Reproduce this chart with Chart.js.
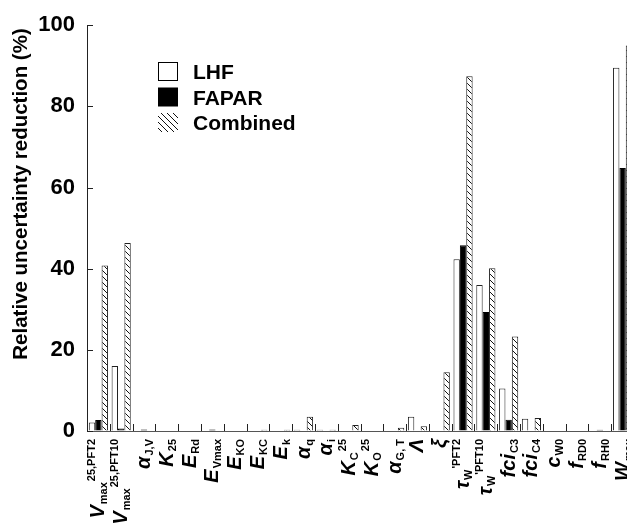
<!DOCTYPE html>
<html>
<head>
<meta charset="utf-8">
<script src="https://cdn.jsdelivr.net/npm/chart.js@4"></script>
<style>
  html, body { margin: 0; padding: 0; background: #fff; overflow: hidden; }
  #wrap { width: 627px; height: 523px; overflow: hidden; }
</style>
</head>
<body>
<div id="wrap"><canvas id="uncChart" width="636" height="523"></canvas></div>
<script>
// ─── data ───
const categories = ['Vmax25,PFT2', 'Vmax25,PFT10', 'αJ,V', 'K25', 'ERd', 'EVmax', 'EKO', 'EKC', 'Ek',
  'αq', 'αi', 'KC25', 'KO25', 'αG,T', 'Λ', 'ξ', "τW'PFT2", "τW'PFT10", 'fciC3', 'fciC4',
  'cW0', 'fRD0', 'fRH0', 'Wmax'];
const labelMain = ['V', 'V', 'α', 'K', 'E', 'E', 'E', 'E', 'E',
  'α', 'α', 'K', 'K', 'α', 'Λ', 'ξ', 'τ', 'τ', 'fci', 'fci',
  'c', 'f', 'f', 'W'];
const labelSub = ['max', 'max', 'J,V', '25', 'Rd', 'Vmax', 'KO', 'KC', 'k',
  'q', 'i', 'C', 'O', 'G, T', '', '', 'W', 'W', 'C3', 'C4',
  'W0', 'RD0', 'RH0', 'max'];
const labelSup = ['25,PFT2', '25,PFT10', '', '', '', '', '', '', '',
  '', '', '25', '25', '', '', '', "'PFT2", "'PFT10", '', '',
  '', '', '', ''];

const lhf      = [2.1, 16.0, 0, 0, 0, 0, 0, 0, 0, 0.3, 0.3, 0, 0, 0, 3.5, 0, 42.3, 36.0, 10.5, 3.0, 0, 0, 0, 89.5];
const fapar    = [2.7, 0.6, 0.4, 0, 0, 0.4, 0, 0, 0, 0, 0, 0, 0, 0, 0, 0, 45.8, 29.3, 2.8, 0, 0, 0, 0.3, 64.8];
const combined = [40.8, 46.3, 0, 0, 0, 0, 0, 0.3, 0.3, 3.5, 0.3, 1.5, 0, 0.8, 1.2, 14.5, 87.4, 40.1, 23.3, 3.2, 0, 0, 0, 95.0];
const yTicks = [0, 20, 40, 60, 80, 100];

const legendLabels = ['LHF', 'FAPAR', 'Combined'];
const FONT = '"Liberation Sans", Arial, sans-serif';

// ─── hatch pattern ───
function makeHatch() {
    const c = document.createElement('canvas');
    c.width = 6; c.height = 6;
    const g = c.getContext('2d');
    g.fillStyle = '#fff';
    g.fillRect(0, 0, 6, 6);
    g.strokeStyle = '#111';
    g.lineWidth = 1;
    g.beginPath();
    g.moveTo(-1, -1); g.lineTo(7, 7);
    g.moveTo(-1, 5); g.lineTo(1, 7);
    g.moveTo(5, -1); g.lineTo(7, 1);
    g.stroke();
    return g.createPattern(c, 'repeat');
}
const hatch = makeHatch();

// ─── custom drawing: inner ticks, rotated math labels, title, legend ───
const decorPlugin = {
    id: 'decor',
    afterDraw(chart) {
        const ctx = chart.ctx;
        const xs = chart.scales.x, ys = chart.scales.y;
        const area = chart.chartArea;
        const step = xs.getPixelForValue(1) - xs.getPixelForValue(0);
        ctx.save();

        // inner ticks on x axis at category boundaries
        ctx.strokeStyle = '#555';
        ctx.lineWidth = 1;
        ctx.beginPath();
        for (let i = 1; i < categories.length; i++) {
            const x = Math.round(xs.getPixelForValue(i) - step / 2) + 0.5;
            ctx.moveTo(x, area.bottom);
            ctx.lineTo(x, area.bottom - 7);
        }
        // inner ticks on y axis
        ctx.strokeStyle = '#222';
        yTicks.forEach(v => {
            const y = Math.round(ys.getPixelForValue(v)) + 0.5;
            ctx.moveTo(area.left, y);
            ctx.lineTo(area.left + 6, y);
        });
        ctx.stroke();

        // rotated category labels with sub/superscripts
        ctx.fillStyle = '#000';
        ctx.textBaseline = 'alphabetic';
        ctx.textAlign = 'left';
        const mainFont = `italic bold 20px ${FONT}`;
        const smallFont = `bold 11px ${FONT}`;
        categories.forEach((_, i) => {
            const cx = xs.getPixelForValue(i);
            ctx.font = mainFont;
            const wm = ctx.measureText(labelMain[i]).width;
            ctx.font = smallFont;
            const wsub = labelSub[i] ? ctx.measureText(labelSub[i]).width + 1 : 0;
            const wsup = labelSup[i] ? ctx.measureText(labelSup[i]).width + 1 : 0;
            const total = wm + wsub + wsup;
            ctx.save();
            ctx.translate(cx, area.bottom + 8);
            ctx.rotate(-Math.PI / 2);
            let pos = -total;
            ctx.font = mainFont;
            ctx.fillText(labelMain[i], pos, 6);
            pos += wm;
            ctx.font = smallFont;
            if (labelSub[i]) { ctx.fillText(labelSub[i], pos + 1, 9); pos += wsub; }
            if (labelSup[i]) { ctx.fillText(labelSup[i], pos + 1, -3); }
            ctx.restore();
        });

        // y axis title
        ctx.save();
        ctx.translate(21, 194);
        ctx.rotate(-Math.PI / 2);
        ctx.textAlign = 'center';
        ctx.textBaseline = 'middle';
        ctx.font = `bold 20.5px ${FONT}`;
        ctx.fillText('Relative uncertainty reduction (%)', 0, 0);
        ctx.restore();

        // legend
        const fills = ['#fff', '#000', hatch];
        ctx.font = `bold 21px ${FONT}`;
        ctx.textBaseline = 'alphabetic';
        legendLabels.forEach((lab, k) => {
            const y = 62 + k * 25.5;
            ctx.fillStyle = fills[k];
            ctx.fillRect(158, y, 20, 19);
            if (k === 0) {
                ctx.strokeStyle = '#000';
                ctx.strokeRect(158.5, y + 0.5, 19, 18);
            }
            ctx.fillStyle = '#000';
            ctx.fillText(lab, 193, y + 17);
        });
        ctx.restore();
    }
};

// ─── Chart.js ───
const ctx = document.getElementById('uncChart').getContext('2d');
new Chart(ctx, {
    type: 'bar',
    data: {
        labels: categories,
        datasets: [
            { label: 'LHF', data: lhf, backgroundColor: '#fff', borderColor: '#222', borderWidth: 1 },
            { label: 'FAPAR', data: fapar, backgroundColor: '#000', borderColor: '#000', borderWidth: 1 },
            { label: 'Combined', data: combined, backgroundColor: hatch, borderColor: '#222', borderWidth: 1 }
        ]
    },
    options: {
        responsive: false,
        animation: false,
        devicePixelRatio: 1,
        layout: { padding: { top: 22, right: 2, left: 0, bottom: 0 } },
        datasets: { bar: { categoryPercentage: 0.84, barPercentage: 1.0 } },
        scales: {
            x: {
                grid: { display: false },
                border: { display: true, color: '#555', width: 1 },
                ticks: { display: false },
                afterFit: s => { s.height = 92; }
            },
            y: {
                min: 0,
                max: 100,
                afterBuildTicks: s => { s.ticks = yTicks.map(v => ({ value: v })); },
                ticks: {
                    color: '#000',
                    padding: 12,
                    font: { family: FONT, size: 22, weight: 'bold' }
                },
                grid: { drawOnChartArea: false, drawTicks: false },
                border: { display: true, color: '#222', width: 1 },
                afterFit: s => { s.width = 87; }
            }
        },
        plugins: {
            legend: { display: false },
            tooltip: { enabled: false }
        }
    },
    plugins: [decorPlugin]
});
</script>
</body>
</html>
